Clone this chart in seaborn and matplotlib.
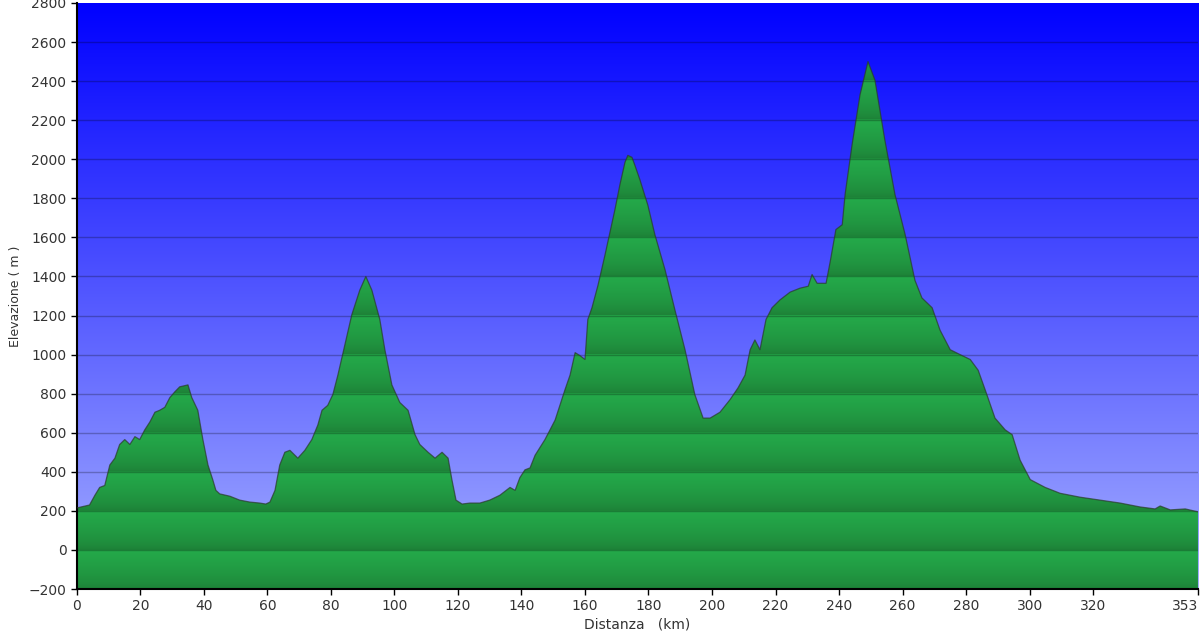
import numpy as np
import pandas as pd
import matplotlib
matplotlib.use("Agg")
import matplotlib.pyplot as plt
from matplotlib.patches import Polygon
import seaborn as sns

# ---- data ----
distance_km = [0, 4, 5.7, 7.2, 8.8, 10.4, 12, 13.5, 15.1, 16.7, 18.3, 19.8, 21.4, 23, 24.6, 26.1,
               27.7, 29.3, 30.9, 32.4, 35, 36.2, 38.1, 39.7, 41.3, 42.8, 43.8, 45, 48.2, 51.3,
               54.5, 57.6, 59.5, 60.8, 62.4, 63.9, 65.5, 67.1, 69.6, 71.8, 74, 75.9, 77.2, 79,
               80.6, 82.2, 84.4, 86.6, 89.1, 91, 92.9, 95.4, 97, 99.2, 101.7, 104.3, 106.5, 108,
               110.6, 112.8, 115, 116.9, 118.1, 119.4, 121.3, 123.8, 126.9, 130, 133.2, 136.4,
               138, 139.5, 141.1, 142.7, 144.3, 147.4, 150.6, 152.1, 153.7, 155.3, 156.9, 158.4,
               160, 160.9, 162.2, 164.1, 166.3, 167.9, 169.4, 171, 172.6, 173.5, 174.8, 175.7,
               177.3, 179.8, 182, 185.2, 188.3, 191.5, 194.6, 197.2, 199.4, 202.5, 205.7, 208.2,
               210.4, 212, 213.5, 215.1, 217, 218.9, 221.4, 224.6, 227.7, 230.3, 231.5, 233.1,
               235.9, 237.2, 239, 241, 241.9, 244.1, 246.6, 249.1, 251.3, 254.4, 257.6, 260.8,
               263.9, 266.1, 269.3, 271.8, 275, 278.1, 281.3, 283.8, 286, 289.1, 292.3, 294.5,
               297, 300.2, 304.9, 309.6, 315.9, 322.2, 328.5, 334.8, 339.5, 341.1, 344.3, 349, 353]
elevation_m = [215, 230, 280, 320, 330, 435, 470, 540, 565, 540, 580, 565, 615, 655, 705, 715,
               730, 780, 810, 835, 845, 780, 715, 565, 435, 360, 305, 287, 275, 255,
               245, 240, 235, 245, 305, 435, 500, 510, 470, 510, 565, 640, 715, 740,
               795, 895, 1050, 1205, 1330, 1400, 1330, 1180, 1025, 845, 755, 715, 590, 540,
               500, 470, 500, 470, 360, 255, 235, 240, 240, 255, 280, 320,
               305, 370, 410, 420, 485, 565, 665, 740, 820, 895, 1010, 995,
               975, 1180, 1240, 1355, 1510, 1630, 1740, 1870, 1985, 2020, 2010, 1970,
               1895, 1765, 1615, 1435, 1230, 1025, 795, 675, 675, 705, 770, 830,
               895, 1025, 1075, 1025, 1180, 1240, 1280, 1320, 1340, 1350, 1410, 1365,
               1365, 1475, 1640, 1665, 1820, 2075, 2330, 2500, 2405, 2100, 1820, 1615,
               1380, 1290, 1240, 1125, 1025, 1000, 975, 920, 820, 675, 615, 590,
               460, 360, 320, 290, 270, 255, 240, 220, 210, 225, 205, 210, 195]
x_ticks = [0, 20, 40, 60, 80, 100, 120, 140, 160, 180, 200, 220, 240, 260, 280, 300, 320, 353]
y_ticks = [-200, 0, 200, 400, 600, 800, 1000, 1200, 1400, 1600, 1800, 2000, 2200, 2400, 2600, 2800]

df = pd.DataFrame({"Distanza": distance_km, "Elevazione": elevation_m})

sns.set_style("ticks")
plt.rcParams['font.family'] = ['DejaVu Sans']

fig = plt.figure(figsize=(12, 6.38), dpi=100)
ax = fig.add_axes([0.064, 0.0768, 0.9343, 0.9185])
xmin, xmax = 0, 353
ymin, ymax = -200, 2800
ax.set_xlim(xmin, xmax)
ax.set_ylim(ymin, ymax)

# blue gradient background
t = np.linspace(0, 1, 256)[:, None]  # 0 bottom -> 1 top
top = np.array([0, 0, 255]) / 255
bot = np.array([165, 175, 255]) / 255
bg = (bot + (top - bot) * t)[:, None, :].repeat(2, axis=1)
ax.imshow(bg, extent=[xmin, xmax, ymin, ymax], origin="lower", aspect="auto", zorder=0)

# green banded shading clipped to the profile: light at top of each band, darker toward bottom
yy = np.linspace(ymin, ymax, 1500)
phase = ((yy - ymin) % 200) / 200.0   # 0 at bottom gridline, 1 at top gridline
shade = phase ** 0.6
dark = np.array([29, 126, 54]) / 255
light = np.array([36, 170, 74]) / 255
green = dark + (light - dark) * shade[:, None]
gimg = green[:, None, :].repeat(2, axis=1)
im = ax.imshow(gimg, extent=[xmin, xmax, ymin, ymax], origin="lower", aspect="auto", zorder=1)
verts = [(df.Distanza.iloc[0], ymin)] + list(zip(df.Distanza, df.Elevazione)) + [(df.Distanza.iloc[-1], ymin)]
clip = Polygon(verts, closed=True, facecolor="none", edgecolor="none", transform=ax.transData)
ax.add_patch(clip)
im.set_clip_path(clip)

# outline
sns.lineplot(data=df, x="Distanza", y="Elevazione", ax=ax, color="#2a3a2a", linewidth=0.9,
             alpha=0.7, zorder=3)

# grid lines
for v in y_ticks[1:-1]:
    ax.axhline(v, color="#000000", alpha=0.25, linewidth=1.0, zorder=2)

ax.set_xticks(x_ticks)
ax.set_yticks(y_ticks)
ax.tick_params(axis="both", labelsize=10, colors="#000000", length=4, width=1, labelcolor="#333333")
ax.get_xticklabels()[-1].set_horizontalalignment("right")
ax.set_xlabel("Distanza   (km)", fontsize=10, color="#333333", labelpad=3)
ax.set_ylabel("Elevazione ( m )", fontsize=9, color="#333333", labelpad=5)
for s in ["top", "right"]:
    ax.spines[s].set_visible(False)
for s in ["left", "bottom"]:
    ax.spines[s].set_linewidth(1.5)
    ax.spines[s].set_color("#000000")

fig.savefig("out.png", dpi=100)
